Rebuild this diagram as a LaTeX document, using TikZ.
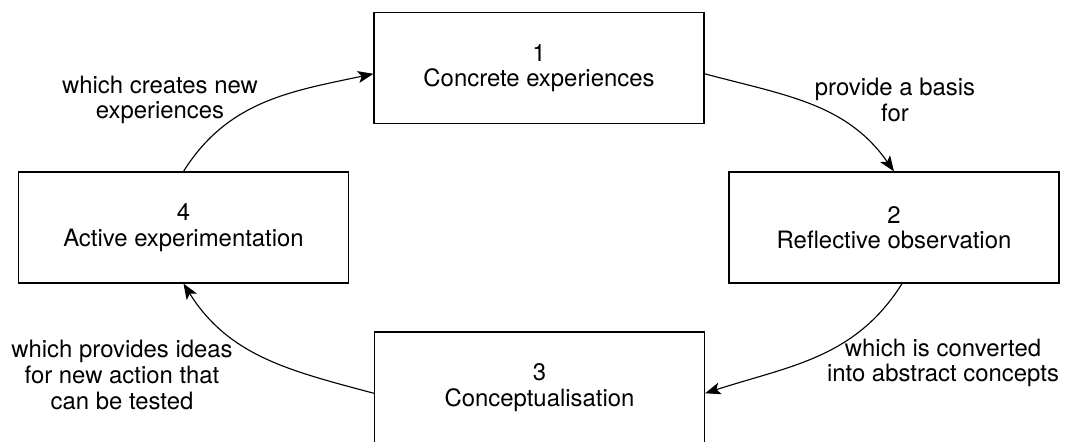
\documentclass[tikz,border=0pt]{standalone}
\usepackage{fontspec}
\setmainfont{TeX Gyre Heros}
\usetikzlibrary{arrows.meta}

\tikzset{
    stagebox/.style={draw, line width=0.8pt, minimum width=8.25cm, minimum height=2.775cm,
        inner sep=0pt, align=center},
    cyclearrow/.style={line width=0.8pt, -{Stealth[length=11pt, width=8.5pt, inset=2.5pt]}},
    steplabel/.style={align=center, inner sep=0pt}
}

\begin{document}
\begin{tikzpicture}[x=0.025cm, y=-0.025cm, font=\fontsize{17}{18.2}\selectfont]
        \useasboundingbox (0, 0) rectangle (1069, 441);

        \node[stagebox] (concrete) at (539, 68) {1\\Concrete experiences};
        \node[stagebox] (reflect) at (894, 227.5) {2\\Reflective observation};
        \node[stagebox] (concept) at (539.5, 387.5) {3\\Conceptualisation};
        \node[stagebox] (active) at (183.5, 227.5) {4\\Active experimentation};

        \node[steplabel] (basis) at (895, 100) {provide a basis\\for};
        \node[steplabel] (converted) at (943, 363) {which is converted\\into abstract concepts};
        \node[steplabel] (ideas) at (122, 375) {which provides ideas\\for new action that\\can be tested};
        \node[steplabel] (creates) at (160, 100) {which creates new\\experiences};

        \draw[cyclearrow] (concrete.-2) to[out=-15, in=125] (reflect.north);
        \draw[cyclearrow] ([xshift=0.2cm]reflect.south) to[out=-122, in=18] (concept.-2);
        \draw[cyclearrow] (concept.182) to[out=165, in=-58] (active.south);
        \draw[cyclearrow] (active.north) to[out=58, in=192] (concrete.182);
    \end{tikzpicture}
\end{document}
